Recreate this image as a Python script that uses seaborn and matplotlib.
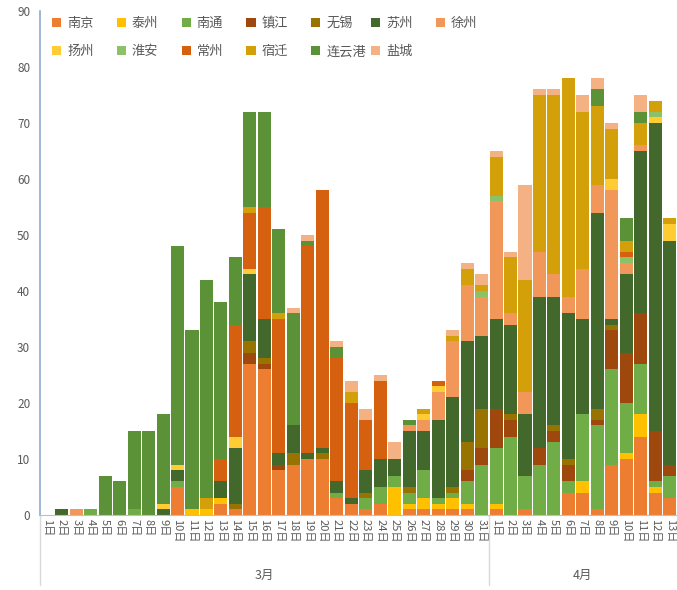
import numpy as np
import pandas as pd
import matplotlib
matplotlib.use("Agg")
import matplotlib.pyplot as plt
import matplotlib.transforms as mtransforms
from matplotlib.patches import Patch
import seaborn as sns

# ---------------- data ----------------
cities = ["南京", "泰州", "南通", "镇江", "无锡", "苏州", "徐州",
          "扬州", "淮安", "常州", "宿迁", "连云港", "盐城"]
days = [f"{d}日" for d in range(1, 32)] + [f"{d}日" for d in range(1, 14)]
months = ["3月", "4月"]
month_len = [31, 13]

nanjing = [0,0,0,0,0,0,0,0,0,5, 0,0,2,1,27,26,8,9,10,10, 3,2,1,2,0,1,1,1,1,1, 0,
           1,0,1,0,0,4,4,1,9,10,14,4,3]
taizhou = [0,0,0,0,0,0,0,0,0,0, 1,1,1,0,0,0,0,0,0,0, 0,0,0,0,5,1,2,1,2,1, 0,
           1,0,0,0,0,0,2,0,0,1,4,1,0]
nantong = [0,0,0,1,0,0,1,0,0,1, 0,0,0,0,0,0,0,0,0,0, 1,0,2,3,2,2,5,1,1,4, 9,
           10,14,6,9,13,2,12,15,17,9,9,1,4]
zhenjiang = [0,0,0,0,0,0,0,0,0,0, 0,0,0,0,2,1,1,0,0,0, 0,0,0,0,0,0,0,0,0,2, 3,
             7,3,0,3,2,3,0,1,7,9,9,9,2]
wuxi = [0,0,0,0,0,0,0,0,0,0, 0,0,0,1,2,1,0,2,0,1, 0,0,1,0,0,1,0,0,1,5, 7,
        0,1,0,0,1,1,0,2,1,0,0,0,0]
suzhou = [0,1,0,0,0,0,0,0,1,2, 0,0,3,10,12,7,2,5,1,1, 2,1,4,5,3,10,7,14,16,18, 13,
          16,16,11,27,23,26,17,35,1,14,29,55,40]
xuzhou = [0,0,1,0,0,0,0,0,0,0, 0,0,0,0,0,0,0,0,0,0, 0,0,0,0,0,1,2,5,10,10, 7,
          21,2,4,8,4,3,9,5,23,2,1,0,0]
yangzhou = [0,0,0,0,0,0,0,0,1,1, 0,0,0,2,1,0,0,0,0,0, 0,0,0,0,0,0,1,1,0,0, 0,
            0,0,0,0,0,0,0,0,2,0,0,1,3]
huaian = [0,0,0,0,0,0,0,0,0,0, 0,0,0,0,0,0,0,0,0,0, 0,0,0,0,0,0,0,0,0,0, 1,
          1,0,0,0,0,0,0,0,0,1,0,1,0]
changzhou = [0,0,0,0,0,0,0,0,0,0, 0,0,4,20,10,20,24,0,37,46, 22,17,9,14,0,0,0,1,0,0, 0,
             0,0,0,0,0,0,0,0,0,1,0,0,0]
suqian = [0,0,0,0,0,0,0,0,0,0, 0,2,0,0,1,0,1,0,0,0, 0,2,0,0,0,0,1,0,1,3, 1,
          7,10,20,28,32,39,28,14,9,2,4,2,1]
lianyungang = [0,0,0,0,7,6,14,15,16,39, 32,39,28,12,17,17,15,20,1,0, 2,0,0,0,0,1,0,0,0,0, 0,
               0,0,0,0,0,0,0,3,0,4,2,0,0]
yancheng = [0,0,0,0,0,0,0,0,0,0, 0,0,0,0,0,0,0,1,1,0, 1,2,2,1,3,0,0,0,1,1, 2,
            1,1,17,1,1,0,3,2,1,0,3,0,0]

series = [nanjing, taizhou, nantong, zhenjiang, wuxi, suzhou, xuzhou,
          yangzhou, huaian, changzhou, suqian, lianyungang, yancheng]

colors = ["#ED7D31", "#FFC000", "#70AD47", "#9E480E", "#997300", "#43682B", "#F1975A",
          "#FFCD33", "#8CC168", "#D5600F", "#D4A00A", "#5B9237", "#F4B183"]
palette = dict(zip(cities, colors))

rows = []
for c, vals in zip(cities, series):
    for i, v in enumerate(vals):
        rows.append({"day": i, "city": c, "value": v})
df = pd.DataFrame(rows)

# ---------------- plot ----------------
sns.set_style("white")
plt.rcParams["font.family"] = ["Noto Sans CJK SC", "DejaVu Sans"]

W, H = 677, 590
fig = plt.figure(figsize=(W / 100, H / 100), dpi=100)
x0, x1, y_top, y_bot = 40, 677, 11, 515
ax = fig.add_axes([x0 / W, (H - y_bot) / H, (x1 - x0) / W, (y_bot - y_top) / H])

sns.histplot(data=df, x="day", hue="city", weights="value",
             hue_order=cities[::-1], palette=palette,
             multiple="stack", discrete=True, shrink=0.9,
             linewidth=0, alpha=1, legend=False, ax=ax)

ax.set_xlim(-0.5, len(days) - 0.5)
ax.set_ylim(0, 90)
ax.set_xlabel("")
ax.set_ylabel("")

ax.set_yticks(range(0, 91, 10))
ax.tick_params(axis="y", length=4, width=1, color="#8EA9CF", labelcolor="#595959",
               labelsize=8.5, pad=3, direction="out")
ax.set_xticks(range(len(days)))
ax.set_xticklabels(days, rotation=270, fontsize=8, color="#595959", va="top", ha="center")
ax.tick_params(axis="x", length=0, pad=3)

for s in ["top", "right"]:
    ax.spines[s].set_visible(False)
ax.spines["left"].set_color("#8EA9CF")
ax.spines["left"].set_linewidth(1.2)
ax.spines["bottom"].set_color("#BFBFBF")

# month group labels and separators
trans = mtransforms.blended_transform_factory(ax.transData, ax.transAxes)
start = -0.5
y_sep = -(585 - 515) / (y_bot - y_top)
for m, n in zip(months, month_len):
    ax.plot([start, start], [0, y_sep], color="#D9D9D9", lw=1, transform=trans, clip_on=False)
    ax.text(start + n / 2, -(575 - 515) / (y_bot - y_top), m, transform=trans,
            ha="center", va="center", fontsize=9, color="#595959")
    start += n

# legend: row-major grid of 7 columns, split in two parts for uniform column pitch
handles = {c: Patch(facecolor=palette[c], edgecolor="none", label=c) for c in cities}
leg_kw = dict(loc="upper left", frameon=False, fontsize=9.5, handlelength=0.7,
              handleheight=0.7, handletextpad=0.45, columnspacing=1.75,
              labelspacing=1.15, borderpad=0, borderaxespad=0)
y_anchor = (y_bot - 17) / (y_bot - y_top)

part1 = ["南京", "扬州", "泰州", "淮安", "南通", "常州", "镇江", "宿迁", "无锡", "连云港"]
leg1 = ax.legend([handles[c] for c in part1], part1, ncol=5,
                 bbox_to_anchor=((52 - x0) / (x1 - x0), y_anchor), **leg_kw)
for t in leg1.get_texts():
    t.set_color("#595959")
ax.add_artist(leg1)

part2 = ["苏州", "盐城", "徐州"]
leg2 = ax.legend([handles[c] for c in part2], part2, ncol=2,
                 bbox_to_anchor=((371 - x0) / (x1 - x0), y_anchor), **leg_kw)
for t in leg2.get_texts():
    t.set_color("#595959")

fig.savefig("out.png", dpi=100)
